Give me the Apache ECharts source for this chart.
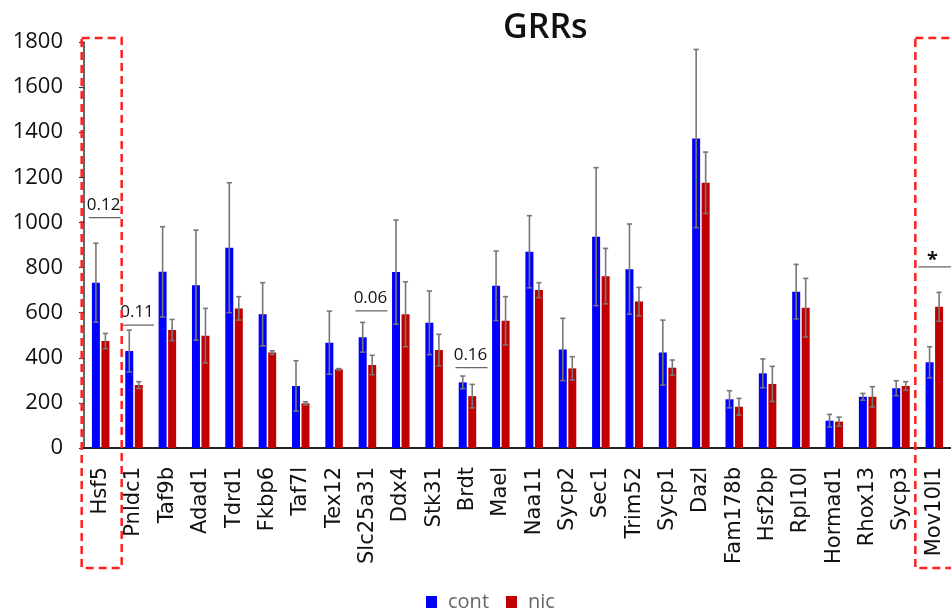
<!DOCTYPE html>
<html>
<head>
<meta charset="utf-8">
<script src="https://cdn.jsdelivr.net/npm/echarts@6/dist/echarts.min.js"></script>
<style>
html,body{margin:0;padding:0;background:#fff;}
#chart{width:951px;height:614px;}
</style>
</head>
<body>
<div id="chart"></div>
<script>
const categories = ['Hsf5','Pnldc1','Taf9b','Adad1','Tdrd1','Fkbp6','Taf7l','Tex12','Slc25a31','Ddx4','Stk31','Brdt','Mael','Naa11','Sycp2','Sec1','Trim52','Sycp1','Dazl','Fam178b','Hsf2bp','Rpl10l','Hormad1','Rhox13','Sycp3','Mov10l1'];
const contValues = [733, 430, 781, 722, 888, 593, 275, 467, 491, 780, 555, 291, 719, 870, 437, 937, 793, 423, 1372, 216, 331, 693, 121, 227, 265, 380];
const contErrors = [175, 93, 200, 244, 288, 140, 112, 140, 66, 231, 141, 28, 154, 160, 138, 306, 200, 144, 395, 38, 64, 121, 28, 15, 33, 69];
const nicValues = [474, 279, 523, 498, 619, 423, 198, 349, 368, 593, 434, 230, 564, 700, 353, 762, 649, 356, 1176, 183, 284, 622, 117, 227, 275, 626];
const nicErrors = [34, 15, 47, 121, 52, 8, 7, 3, 43, 144, 70, 52, 107, 33, 52, 123, 63, 34, 136, 37, 78, 130, 20, 45, 19, 64];
const yTicks = [0, 200, 400, 600, 800, 1000, 1200, 1400, 1600, 1800];
const bracketCats = [0, 1, 8, 11, 25];
const bracketLevels = [1021, 545, 608, 356, 803];
const bracketLabels = ['0.12', '0.11', '0.06', '0.16', '*'];
const highlightCats = [0, 25];

const FONT = 'Open Sans';
const chart = echarts.init(document.getElementById('chart'));

function errData(vals, errs) {
  return vals.map((v, i) => [i, v - errs[i], v + errs[i]]);
}
function errRender(offset) {
  return function (params, api) {
    const i = api.value(0);
    const lo = api.coord([i, api.value(1)]);
    const hi = api.coord([i, api.value(2)]);
    const x = lo[0] + offset;
    const cap = 2.6;
    const style = { stroke: '#777', lineWidth: 1.6 };
    return {
      type: 'group',
      children: [
        { type: 'line', shape: { x1: x, y1: lo[1], x2: x, y2: hi[1] }, style },
        { type: 'line', shape: { x1: x - cap, y1: hi[1], x2: x + cap, y2: hi[1] }, style },
        { type: 'line', shape: { x1: x - cap, y1: lo[1], x2: x + cap, y2: lo[1] }, style }
      ]
    };
  };
}

const option = {
  animation: false,
  backgroundColor: '#fff',
  title: {
    text: 'GRRs', left: 498, top: 6,
    textStyle: { fontFamily: FONT, fontSize: 34, fontWeight: 600, color: '#111' }
  },
  legend: {
    left: 421, top: 587,
    itemWidth: 11, itemHeight: 12, itemGap: 17,
    icon: 'rect',
    data: ['cont', 'nic'],
    textStyle: { fontFamily: FONT, fontSize: 20, color: '#666', padding: [0, 0, 0, 6] }
  },
  grid: { left: 84, top: 42, width: 868, height: 406, containLabel: false },
  xAxis: {
    type: 'category',
    data: categories,
    boundaryGap: true,
    axisLine: { show: true, lineStyle: { color: '#222', width: 2 } },
    axisTick: { show: false },
    axisLabel: { interval: 0, rotate: 90, margin: 19, fontFamily: 'DejaVu Sans', fontSize: 21, color: '#111' },
    splitLine: { show: false }
  },
  yAxis: {
    type: 'value',
    min: yTicks[0], max: yTicks[yTicks.length - 1], interval: yTicks[1] - yTicks[0],
    axisLine: { show: true, lineStyle: { color: '#333', width: 1.5 } },
    axisTick: { show: true, inside: false, length: 5, lineStyle: { color: '#333', width: 1.2 } },
    axisLabel: { margin: 21, fontFamily: FONT, fontSize: 22, color: '#111', formatter: v => String(v) },
    splitLine: { show: false }
  },
  series: [
    {
      name: 'cont', type: 'bar', data: contValues,
      barWidth: 8, barGap: '19%',
      itemStyle: { color: '#0000ff' }
    },
    {
      name: 'nic', type: 'bar', data: nicValues,
      barWidth: 8, barGap: '19%',
      itemStyle: { color: '#c00000' }
    },
    {
      type: 'custom', z: 5, data: errData(contValues, contErrors),
      encode: { x: 0, y: [1, 2] }, renderItem: errRender(-4.75), silent: true
    },
    {
      type: 'custom', z: 5, data: errData(nicValues, nicErrors),
      encode: { x: 0, y: [1, 2] }, renderItem: errRender(4.75), silent: true
    },
    {
      type: 'custom', z: 6, silent: true,
      data: bracketCats.map((c, k) => [c, bracketLevels[k], k]),
      encode: { x: 0, y: 1 },
      renderItem: function (params, api) {
        const p = api.coord([api.value(0), api.value(1)]);
        const k = api.value(2);
        const label = bracketLabels[k];
        const star = label === '*';
        const x1 = star ? p[0] - 16 : p[0] - 12;
        const x2 = star ? p[0] + 30 : p[0] + 20;
        return {
          type: 'group',
          children: [
            { type: 'line', shape: { x1: x1, y1: p[1], x2: x2, y2: p[1] }, style: { stroke: '#666', lineWidth: 1.3 } },
            { type: 'text', x: star ? p[0] - 2 : (x1 + x2) / 2 - 1, y: star ? p[1] + 3 : p[1] - 4,
              style: { text: label, fill: '#111', align: 'center', verticalAlign: 'bottom',
                       font: (star ? 'bold 20px ' : '17px ') + FONT } }
          ]
        };
      }
    },
    {
      type: 'custom', z: 7, silent: true,
      data: highlightCats.map(c => [c, yTicks[yTicks.length - 1]]),
      encode: { x: 0, y: 1 },
      renderItem: function (params, api) {
        const top = api.coord([api.value(0), api.value(1)]);
        const base = api.coord([api.value(0), 0]);
        return {
          type: 'rect',
          shape: { x: top[0] - 19, y: top[1] - 4, width: 40, height: base[1] + 120 - (top[1] - 4) },
          style: { fill: 'none', stroke: '#ff2020', lineWidth: 2.5, lineDash: [8, 5] }
        };
      }
    }
  ]
};
chart.setOption(option);
</script>
</body>
</html>
